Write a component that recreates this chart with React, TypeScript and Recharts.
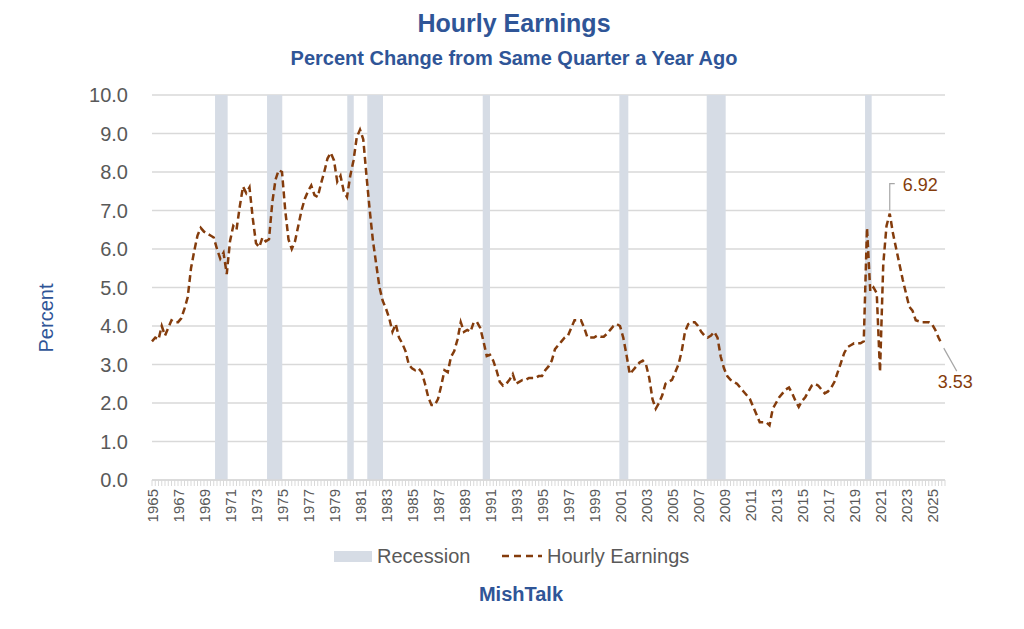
import React from "react";
import {
  ComposedChart,
  Line,
  XAxis,
  YAxis,
  CartesianGrid,
  ReferenceArea,
} from "recharts";

// ---- Data ----
const START_YEAR = 1965;

// Hourly earnings, percent change from same quarter a year ago (quarterly, starting 1965)
const earnings: number[] = [
  3.6, 3.7, 3.65, 4.0, 3.75, 3.95, 4.15, 4.1, 4.1, 4.2,
  4.45, 4.75, 5.5, 5.95, 6.35, 6.55, 6.45, 6.4, 6.35, 6.3,
  6.0, 5.75, 5.9, 5.35, 6.2, 6.6, 6.5, 7.1, 7.62, 7.45,
  7.6, 6.8, 6.15, 6.05, 6.3, 6.2, 6.25, 7.2, 7.8, 8.05,
  8.0, 7.0, 6.25, 6.0, 6.2, 6.6, 7.0, 7.3, 7.5, 7.65,
  7.4, 7.35, 7.7, 8.0, 8.35, 8.5, 8.3, 7.75, 7.9, 7.5,
  7.35, 7.9, 8.3, 8.9, 9.1, 8.85, 7.9, 7.0, 6.2, 5.6,
  5.0, 4.65, 4.45, 4.2, 3.85, 4.05, 3.7, 3.55, 3.35, 3.0,
  2.9, 2.85, 2.9, 2.8, 2.5, 2.15, 1.95, 1.95, 2.1, 2.45,
  2.85, 2.8, 3.2, 3.35, 3.65, 4.1, 3.85, 3.9, 3.85, 4.1,
  4.1, 3.95, 3.6, 3.22, 3.25, 3.1, 2.85, 2.55, 2.45, 2.5,
  2.6, 2.75, 2.5, 2.55, 2.6, 2.6, 2.65, 2.65, 2.65, 2.7,
  2.7, 2.85, 2.95, 3.1, 3.4, 3.5, 3.6, 3.7, 3.75, 3.95,
  4.15, 4.15, 4.15, 3.95, 3.7, 3.7, 3.7, 3.75, 3.72, 3.72,
  3.8, 3.9, 4.0, 4.05, 4.0, 3.7, 3.25, 2.75, 2.85, 2.95,
  3.05, 3.1, 3.0, 2.65, 2.1, 1.85, 2.0, 2.2, 2.5, 2.55,
  2.6, 2.8, 3.0, 3.35, 3.85, 4.05, 4.1, 4.1, 4.0, 3.85,
  3.75, 3.7, 3.75, 3.85, 3.7, 3.2, 2.9, 2.7, 2.6, 2.55,
  2.5, 2.4, 2.3, 2.2, 2.1, 1.9, 1.7, 1.5, 1.5, 1.5,
  1.42, 1.85, 2.0, 2.15, 2.25, 2.35, 2.4, 2.25, 2.05, 1.9,
  2.05, 2.15, 2.3, 2.45, 2.5, 2.45, 2.35, 2.25, 2.3, 2.4,
  2.55, 2.8, 3.05, 3.3, 3.45, 3.5, 3.55, 3.55, 3.55, 3.6,
  6.55, 4.9, 5.0, 4.85, 2.81, 5.6, 6.6, 6.92, 6.4, 6.0,
  5.6, 5.2, 4.85, 4.5, 4.4, 4.15, 4.12, 4.1, 4.1, 4.1,
  4.05, 3.9, 3.7, 3.53,
];

// Recession periods (start, end) in fractional years
const recessionStarts: number[] = [1969.85, 1973.85, 1980.02, 1981.56, 1990.44, 2000.95, 2007.67, 2019.85];
const recessionEnds: number[] = [1970.82, 1975.02, 1980.52, 1982.77, 1991.0, 2001.64, 2009.13, 2020.36];

// Axis ticks
const yTicks: number[] = [0, 1, 2, 3, 4, 5, 6, 7, 8, 9, 10];
const X_END = 2026;
const labelledPeakValue = 6.92;

const data = earnings.map((v, i) => ({ t: START_YEAR + i / 4, v }));
const quarterTicks: number[] = Array.from(
  { length: (X_END - START_YEAR) * 4 + 1 },
  (_, k) => START_YEAR + k / 4
);

const BLUE = "#2F5597";
const BROWN = "#843C0C";
const GRAY_TEXT = "#595959";
const GRID = "#D9D9D9";
const RECESSION = "#D6DCE5";
const FONT = "'Liberation Sans', Arial, sans-serif";

const XTick = (props: any) => {
  const { x, y, payload } = props;
  const t = payload.value as number;
  const isLabel = Number.isInteger(t) && (t - START_YEAR) % 2 === 0;
  if (!isLabel) return <g />;
  return (
    <text
      x={x}
      y={y}
      transform={`rotate(-90 ${x} ${y})`}
      textAnchor="end"
      dominantBaseline="central"
      fontSize={15}
      fill={GRAY_TEXT}
      fontFamily={FONT}
    >
      {t}
    </text>
  );
};

const lastIndex = earnings.length - 1;
const peakIndex = earnings.indexOf(labelledPeakValue);

const renderDot = (props: any) => {
  const { cx, cy, index } = props;
  if (index === peakIndex) {
    return (
      <g key={`dot-${index}`}>
        <polyline
          points={`${cx},${cy - 3} ${cx},${cy - 30} ${cx + 5},${cy - 30}`}
          fill="none"
          stroke="#A6A6A6"
          strokeWidth={1.2}
        />
        <text
          x={cx + 13}
          y={cy - 29}
          dominantBaseline="central"
          fontSize={18}
          fill={BROWN}
          fontFamily={FONT}
        >
          {earnings[index].toFixed(2)}
        </text>
      </g>
    );
  }
  if (index === lastIndex) {
    return (
      <g key={`dot-${index}`}>
        <line x1={cx + 2} y1={cy + 4} x2={cx + 15} y2={cy + 27} stroke="#A6A6A6" strokeWidth={1.2} />
        <text
          x={cx - 4}
          y={cy + 38}
          dominantBaseline="central"
          fontSize={18}
          fill={BROWN}
          fontFamily={FONT}
        >
          {earnings[index].toFixed(2)}
        </text>
      </g>
    );
  }
  return <g key={`dot-${index}`} />;
};

export default function App() {
  return (
    <div style={{ position: "fixed", left: 0, top: 0, width: 1024, height: 629, background: "#fff", fontFamily: FONT }}>
      <ComposedChart
        width={1024}
        height={629}
        data={data}
        margin={{ top: 95, right: 79, bottom: 89, left: 92 }}
      >
        <CartesianGrid vertical={false} stroke={GRID} strokeWidth={1.3} />
        {recessionStarts.map((s, i) => (
          <ReferenceArea
            key={`rec-${i}`}
            x1={s}
            x2={recessionEnds[i]}
            y1={0}
            y2={10}
            fill={RECESSION}
            fillOpacity={1}
            stroke="none"
          />
        ))}
        <XAxis
          dataKey="t"
          type="number"
          domain={[START_YEAR, X_END]}
          ticks={quarterTicks}
          interval={0}
          tick={<XTick />}
          tickSize={6}
          tickMargin={3}
          tickLine={{ stroke: GRID }}
          axisLine={{ stroke: GRID, strokeWidth: 1.3 }}
          height={60}
        />
        <YAxis
          type="number"
          domain={[0, 10]}
          ticks={yTicks}
          interval={0}
          tickFormatter={(v: number) => v.toFixed(1)}
          tick={{ fontSize: 20, fill: GRAY_TEXT, fontFamily: FONT }}
          tickLine={false}
          axisLine={false}
          tickSize={0}
          tickMargin={24}
          width={60}
        />
        <Line
          type="linear"
          dataKey="v"
          stroke={BROWN}
          strokeWidth={2.5}
          strokeDasharray="7 4"
          dot={renderDot}
          activeDot={false}
          isAnimationActive={false}
        />
      </ComposedChart>
      <svg
        width={1024}
        height={629}
        style={{ position: "absolute", left: 0, top: 0, pointerEvents: "none" }}
      >
        <text x={514} y={23} textAnchor="middle" dominantBaseline="central" fontSize={25} fontWeight="bold" fill={BLUE} fontFamily={FONT}>
          Hourly Earnings
        </text>
        <text x={514} y={58} textAnchor="middle" dominantBaseline="central" fontSize={20} fontWeight="bold" fill={BLUE} fontFamily={FONT}>
          Percent Change from Same Quarter a Year Ago
        </text>
        <text x={46} y={318} transform="rotate(-90 46 318)" textAnchor="middle" dominantBaseline="central" fontSize={20} fill={BLUE} fontFamily={FONT}>
          Percent
        </text>
        <rect x={334} y={551} width={38} height={11} fill={RECESSION} />
        <text x={377} y={556} dominantBaseline="central" fontSize={20} fill={GRAY_TEXT} fontFamily={FONT}>
          Recession
        </text>
        <line x1={502} y1={556} x2={542} y2={556} stroke={BROWN} strokeWidth={2.5} strokeDasharray="7 5" />
        <text x={547} y={556} dominantBaseline="central" fontSize={20} fill={GRAY_TEXT} fontFamily={FONT}>
          Hourly Earnings
        </text>
        <text x={521} y={594} textAnchor="middle" dominantBaseline="central" fontSize={20} fontWeight="bold" fill={BLUE} fontFamily={FONT}>
          MishTalk
        </text>
      </svg>
    </div>
  );
}
